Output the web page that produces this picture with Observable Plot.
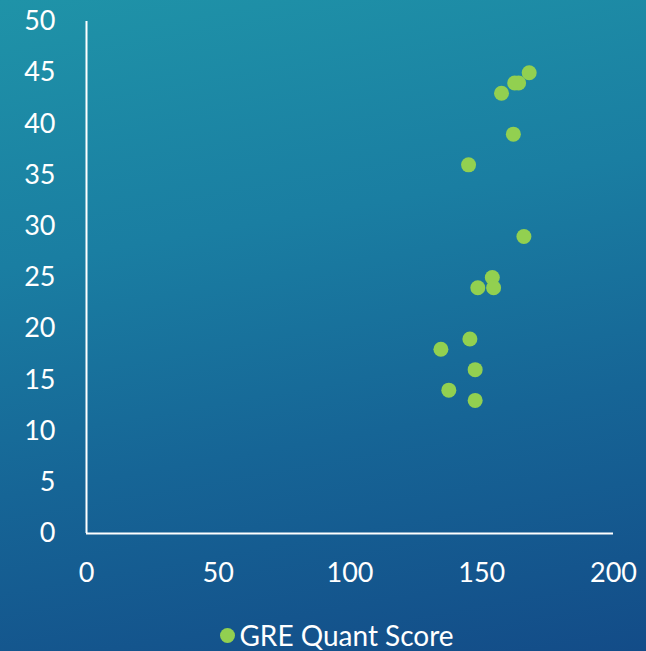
<!DOCTYPE html>
<html>
<head>
<meta charset="utf-8">
<script src="https://cdn.jsdelivr.net/npm/d3@7"></script>
<script src="https://cdn.jsdelivr.net/npm/@observablehq/plot@0.6"></script>
<style>
  html, body { margin: 0; padding: 0; }
  #wrap {
    position: relative; width: 646px; height: 651px; overflow: hidden;
    background: linear-gradient(170deg, #1f93a8 0%, #1a7ea2 35%, #166596 65%, #134c88 100%);
    font-family: Lato, "Open Sans", sans-serif; color: #fff;
  }
  #legend {
    position: absolute; left: 0; width: 646px; top: 618px; height: 34px;
    display: flex; align-items: center; justify-content: center;
    padding-left: 28px; box-sizing: border-box;
    font-size: 28px; color: #fff;
  }
  #legend .dot { width: 15px; height: 15px; border-radius: 50%; background: #92d050; margin-right: 4px; }
</style>
</head>
<body>
<div id="wrap">
  <div id="chart"></div>
  <div id="legend"><span class="dot"></span><span>GRE Quant Score</span></div>
</div>
<script>
const greQuant = [168, 164, 162.5, 157.5, 162, 145, 166, 154, 148.5, 154.5, 145.5, 134.5, 147.5, 137.5, 147.5];
const yValues  = [45, 44, 44, 43, 39, 36, 29, 25, 24, 24, 19, 18, 16, 14, 13];
const xTicks = [0, 50, 100, 150, 200];
const yTicks = [0, 5, 10, 15, 20, 25, 30, 35, 40, 45, 50];

const data = greQuant.map((x, i) => ({x, y: yValues[i]}));

const chart = Plot.plot({
  width: 646,
  height: 600,
  marginLeft: 86,
  marginRight: 33,
  marginTop: 21,
  marginBottom: 67,
  style: { background: "transparent", color: "#fff", fontFamily: "Lato, 'Open Sans', sans-serif", overflow: "visible" },
  x: { domain: [0, 200] },
  y: { domain: [0, 50] },
  marks: [
    Plot.axisX({ ticks: xTicks, tickSize: 0, tickPadding: 29, fontSize: 27, label: null, tickFormat: d => String(d) }),
    Plot.axisY({ ticks: yTicks, tickSize: 0, tickPadding: 31, fontSize: 27, label: null, tickFormat: d => String(d) }),
    Plot.ruleX([0], { stroke: "#fff", strokeWidth: 2 }),
    Plot.ruleY([0], { stroke: "#fff", strokeWidth: 2 }),
    Plot.dot(data, { x: "x", y: "y", r: 7.5, fill: "#92d050", stroke: "none" })
  ]
});
document.getElementById("chart").appendChild(chart);
</script>
</body>
</html>
